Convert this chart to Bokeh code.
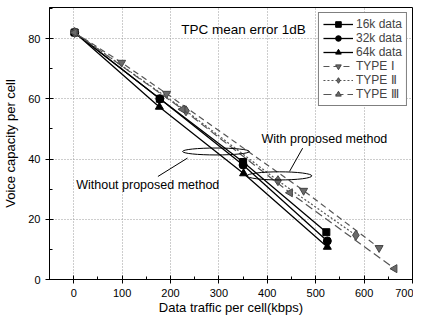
from bokeh.plotting import figure
from bokeh.models import Range1d, Legend, SingleIntervalTicker
from bokeh.embed import file_html
from bokeh.resources import INLINE
from bokeh.core.properties import value

FONT = "Liberation Sans"

# Solid series (without proposed method)
x16 = [2, 178, 350, 522]
y16 = [82, 60, 39, 15.7]
x32 = [2, 178, 350, 524]
y32 = [82, 60, 38, 12.8]
x64 = [2, 177, 351, 524]
y64 = [82, 57.3, 35.2, 10.8]

# Dashed series (with proposed method)
xT1 = [2, 99, 192, 475, 631]
yT1 = [82, 72, 61.7, 29.5, 10.5]
xT2 = [2, 232, 422, 583]
yT2 = [82, 56, 32.8, 14.7]
xT3 = [2, 225, 447, 663]
yT3 = [82, 56.5, 28.8, 3.6]

labels = ["16k data", "32k data", "64k data", "TYPE \u2160", "TYPE \u2161", "TYPE \u2162"]

p = figure(width=413, height=317, output_backend="svg", toolbar_location=None,
           x_range=Range1d(-50, 700), y_range=Range1d(0, 90.3),
           min_border_left=49, min_border_right=1, min_border_top=7, min_border_bottom=0)

p.outline_line_color = "black"
p.outline_line_width = 1
p.background_fill_color = "white"
p.border_fill_color = "white"

for ax in (p.xaxis[0], p.yaxis[0]):
    ax.axis_line_color = "black"
    ax.major_tick_line_color = "black"
    ax.minor_tick_line_color = "black"
    ax.major_tick_in = 4
    ax.major_tick_out = 4
    ax.minor_tick_in = 3
    ax.minor_tick_out = 0
    ax.major_label_text_font = FONT
    ax.major_label_text_font_size = "11px"
    ax.major_label_text_color = "black"
    ax.axis_label_text_font = FONT
    ax.axis_label_text_font_size = "13px"
    ax.axis_label_text_font_style = "normal"
    ax.axis_label_text_color = "black"

p.xaxis.axis_label = "Data traffic per cell(kbps)"
p.yaxis.axis_label = "Voice capacity per cell"
p.xaxis.major_label_standoff = 5
p.yaxis.major_label_standoff = 5
p.xaxis.axis_label_standoff = 0
p.yaxis.axis_label_standoff = 7

p.xaxis[0].ticker = SingleIntervalTicker(interval=100, num_minor_ticks=2)
p.yaxis[0].ticker = SingleIntervalTicker(interval=20, num_minor_ticks=2)
p.xgrid[0].ticker = p.xaxis[0].ticker
p.ygrid[0].ticker = p.yaxis[0].ticker

for g in (p.xgrid[0], p.ygrid[0]):
    g.grid_line_color = "#9a9a9a"
    g.grid_line_dash = "1 2"
    g.grid_line_width = 1

GREY = "#6a6a6a"
# solid
l1 = p.line(x16, y16, line_color="black", line_width=1.3)
m1 = p.scatter(x16, y16, marker="square", size=7, fill_color="black", line_color="black")
l2 = p.line(x32, y32, line_color="black", line_width=1.3)
m2 = p.scatter(x32, y32, marker="circle", size=8, fill_color="black", line_color="black")
l3 = p.line(x64, y64, line_color="black", line_width=1.3)
m3 = p.scatter(x64, y64, marker="triangle", size=8, fill_color="black", line_color="black")
# dashed
l4 = p.line(xT1, yT1, line_color="#555555", line_width=1.2, line_dash="6 4")
m4 = p.scatter(xT1, yT1, marker="inverted_triangle", size=8, fill_color=GREY, line_color="#444444")
l5 = p.line(xT2, yT2, line_color="#555555", line_width=1.2, line_dash="2 2")
m5 = p.scatter(xT2, yT2, marker="diamond", size=10, fill_color=GREY, line_color="#444444")
l6 = p.line(xT3, yT3, line_color="#555555", line_width=1.2, line_dash="8 4")
m6 = p.scatter(xT3, yT3, marker="triangle", size=8, angle=1.5708, fill_color=GREY, line_color="#444444")

legend = Legend(items=[(labels[0], [l1, m1]), (labels[1], [l2, m2]), (labels[2], [l3, m3]),
                       (labels[3], [l4, m4]), (labels[4], [l5, m5]), (labels[5], [l6, m6])],
                location="top_right")
legend.margin = 5
legend.padding = 4
legend.spacing = 0
legend.label_height = 14
legend.glyph_height = 14
legend.glyph_width = 30
legend.label_standoff = 3
legend.label_text_font = FONT
legend.label_text_font_size = "12px"
legend.border_line_color = "black"
legend.border_line_width = 1
legend.background_fill_alpha = 1
p.add_layout(legend)

# Annotations
p.text(x=[222], y=[83], text=["TPC mean error 1dB"], text_font=value(FONT),
       text_font_size="13.5px", text_align="left", text_baseline="middle", text_color="black")
p.text(x=[153, 518], y=[31.5, 46.6], text=["Without proposed method", "With proposed method"],
       text_font=value(FONT), text_font_size="12.5px", text_align="center",
       text_baseline="middle", text_color="black")
p.ellipse(x=[294, 425], y=[42.5, 34.4], width=[138, 134], height=[2.3, 2.7],
          fill_color=None, line_color="black", line_width=1)
p.segment(x0=[174, 473], y0=[34.2, 43.6], x1=[235, 446], y1=[40.3, 35.9],
          line_color="black", line_width=1)

open("out.html", "w").write(file_html(p, INLINE))
